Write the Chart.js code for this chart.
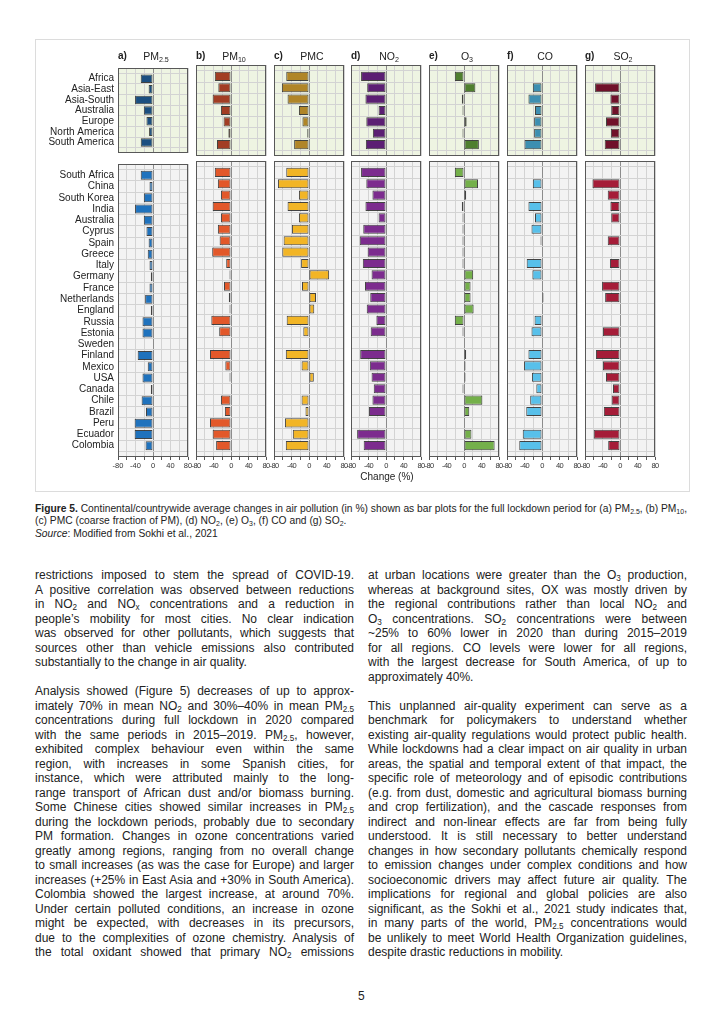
<!DOCTYPE html>
<html>
<head>
<meta charset="utf-8">
<script src="https://cdn.jsdelivr.net/npm/chart.js@4.4.1/dist/chart.umd.min.js"></script>
<style>
  body { margin: 0; background: #fff; }
  #page { position: relative; width: 724px; height: 1024px; overflow: hidden; font-family: 'Liberation Sans', Arial, sans-serif; color: #222; }
  .fig { position: absolute; left: 35px; top: 39px; width: 655px; height: 453px; border: 1.5px solid #dcdcdc; box-sizing: border-box; }
  canvas { position: absolute; }
  .letter { position: absolute; top: 50px; font-size: 10px; font-weight: bold; line-height: 12px; }
  .ptitle { position: absolute; top: 50px; width: 70px; text-align: center; font-size: 10.5px; line-height: 12px; }
  .xlabel { position: absolute; left: 337px; top: 471px; width: 100px; text-align: center; font-size: 10px; }
  sub { font-size: 0.68em; line-height: 0; vertical-align: -0.3em; }
  .caption { position: absolute; left: 35px; top: 502px; font-size: 10.5px; line-height: 12.3px; white-space: nowrap; color: #222; transform-origin: 0 0; }
  .caption span { display: inline-block; }
  .col { position: absolute; top: 568px; width: 319px; font-size: 12px; color: #222; }
  .ln { white-space: nowrap; height: 14.5px; line-height: 14.5px; }
  .gap { height: 14.5px; }
  .pageno { position: absolute; left: 358px; top: 989px; font-size: 12px; }
</style>
</head>
<body>
<div id="page">
  <div class="fig"></div>
  <div id="charts"></div>
  <div class="xlabel">Change (%)</div>

  <div class="caption">
    <div><span id="caption-first"><b>Figure 5.</b> Continental/countrywide average changes in air pollution (in %) shown as bar plots for the full lockdown period for (a) PM<sub>2.5</sub>, (b) PM<sub>10</sub>,</span></div>
    <div>(c) PMC (coarse fraction of PM), (d) NO<sub>2</sub>, (e) O<sub>3</sub>, (f) CO and (g) SO<sub>2</sub>.</div>
    <div><i>Source</i>: Modified from Sokhi et al., 2021</div>
  </div>

  <div class="col" style="left:35px">
    <div class="ln"><span>restrictions imposed to stem the spread of COVID-19.</span></div>
    <div class="ln"><span>A positive correlation was observed between reductions</span></div>
    <div class="ln"><span>in NO<sub>2</sub> and NO<sub>x</sub> concentrations and a reduction in</span></div>
    <div class="ln"><span>people’s mobility for most cities. No clear indication</span></div>
    <div class="ln"><span>was observed for other pollutants, which suggests that</span></div>
    <div class="ln"><span>sources other than vehicle emissions also contributed</span></div>
    <div class="ln last"><span>substantially to the change in air quality.</span></div>
    <div class="gap"></div>
    <div class="ln"><span>Analysis showed (Figure 5) decreases of up to approx-</span></div>
    <div class="ln"><span>imately 70% in mean NO<sub>2</sub> and 30%–40% in mean PM<sub>2.5</sub></span></div>
    <div class="ln"><span>concentrations during full lockdown in 2020 compared</span></div>
    <div class="ln"><span>with the same periods in 2015–2019. PM<sub>2.5</sub>, however,</span></div>
    <div class="ln"><span>exhibited complex behaviour even within the same</span></div>
    <div class="ln"><span>region, with increases in some Spanish cities, for</span></div>
    <div class="ln"><span>instance, which were attributed mainly to the long-</span></div>
    <div class="ln"><span>range transport of African dust and/or biomass burning.</span></div>
    <div class="ln"><span>Some Chinese cities showed similar increases in PM<sub>2.5</sub></span></div>
    <div class="ln"><span>during the lockdown periods, probably due to secondary</span></div>
    <div class="ln"><span>PM formation. Changes in ozone concentrations varied</span></div>
    <div class="ln"><span>greatly among regions, ranging from no overall change</span></div>
    <div class="ln"><span>to small increases (as was the case for Europe) and larger</span></div>
    <div class="ln"><span>increases (+25% in East Asia and +30% in South America).</span></div>
    <div class="ln"><span>Colombia showed the largest increase, at around 70%.</span></div>
    <div class="ln"><span>Under certain polluted conditions, an increase in ozone</span></div>
    <div class="ln"><span>might be expected, with decreases in its precursors,</span></div>
    <div class="ln"><span>due to the complexities of ozone chemistry. Analysis of</span></div>
    <div class="ln"><span>the total oxidant showed that primary NO<sub>2</sub> emissions</span></div>
  </div>

  <div class="col" style="left:368px">
    <div class="ln"><span>at urban locations were greater than the O<sub>3</sub> production,</span></div>
    <div class="ln"><span>whereas at background sites, OX was mostly driven by</span></div>
    <div class="ln"><span>the regional contributions rather than local NO<sub>2</sub> and</span></div>
    <div class="ln"><span>O<sub>3</sub> concentrations. SO<sub>2</sub> concentrations were between</span></div>
    <div class="ln"><span>~25% to 60% lower in 2020 than during 2015–2019</span></div>
    <div class="ln"><span>for all regions. CO levels were lower for all regions,</span></div>
    <div class="ln"><span>with the largest decrease for South America, of up to</span></div>
    <div class="ln last"><span>approximately 40%.</span></div>
    <div class="gap"></div>
    <div class="ln"><span>This unplanned air-quality experiment can serve as a</span></div>
    <div class="ln"><span>benchmark for policymakers to understand whether</span></div>
    <div class="ln"><span>existing air-quality regulations would protect public health.</span></div>
    <div class="ln"><span>While lockdowns had a clear impact on air quality in urban</span></div>
    <div class="ln"><span>areas, the spatial and temporal extent of that impact, the</span></div>
    <div class="ln"><span>specific role of meteorology and of episodic contributions</span></div>
    <div class="ln"><span>(e.g. from dust, domestic and agricultural biomass burning</span></div>
    <div class="ln"><span>and crop fertilization), and the cascade responses from</span></div>
    <div class="ln"><span>indirect and non-linear effects are far from being fully</span></div>
    <div class="ln"><span>understood. It is still necessary to better understand</span></div>
    <div class="ln"><span>changes in how secondary pollutants chemically respond</span></div>
    <div class="ln"><span>to emission changes under complex conditions and how</span></div>
    <div class="ln"><span>socioeconomic drivers may affect future air quality. The</span></div>
    <div class="ln"><span>implications for regional and global policies are also</span></div>
    <div class="ln"><span>significant, as the Sokhi et al., 2021 study indicates that,</span></div>
    <div class="ln"><span>in many parts of the world, PM<sub>2.5</sub> concentrations would</span></div>
    <div class="ln"><span>be unlikely to meet World Health Organization guidelines,</span></div>
    <div class="ln last"><span>despite drastic reductions in mobility.</span></div>
  </div>

  <div class="pageno">5</div>
</div>

<script>
const regions = ['Africa', 'Asia-East', 'Asia-South', 'Australia', 'Europe', 'North America', 'South America'];
const countries = ['South Africa', 'China', 'South Korea', 'India', 'Australia', 'Cyprus', 'Spain', 'Greece', 'Italy',
  'Germany', 'France', 'Netherlands', 'England', 'Russia', 'Estonia', 'Sweden', 'Finland', 'Mexico', 'USA', 'Canada',
  'Chile', 'Brazil', 'Peru', 'Ecuador', 'Colombia'];
const xTicks = [-80, -40, 0, 40, 80];

// continental averages (%)
const pm25Regions = [-28, -10, -41, -21, -15, -9, -28];
const pm10Regions = [-37, -29, -42, -23, -17, -6, -32];
const pmcRegions = [-52, -62, -49, -23, -15, -4, -34];
const no2Regions = [-57, -43, -47, -17, -45, -30, -46];
const o3Regions = [-21, 26, -5, -1, 6, -1, 34];
const coRegions = [null, -21, -31, -16, -18, -18, -40];
const so2Regions = [null, -57, -22, -20, -32, -21, -35];

// country averages (%)
const pm25Countries = [-28, -8, -21, -41, -21, -15, -10, -12, -8, -5, -8, -18, -5, -24, -24, null, -35, -12, -24, -5, -26, -16, -42, -42, -17];
const pm10Countries = [-37, -30, -23, -42, -23, -30, -26, -43, -11, -1, -16, -5, -1, -45, -27, null, -48, -13, -1, null, -23, -14, -48, -42, -34];
const pmcCountries = [-52, -71, -23, -49, -23, -39, -58, -61, -18, 46, -16, 16, 12, -51, -13, null, -53, -17, 11, null, -17, -8, -55, -37, -53];
const no2Countries = [-57, -45, -31, -47, -17, -52, -60, -42, -53, -33, -48, -36, -44, -22, -35, null, -59, -37, -33, -28, -31, -39, null, -66, -51];
const o3Countries = [-21, 32, 5, -5, -1, -1, -1, -1, -3, 21, 15, 15, 22, -21, -2, null, 5, 3, 3, -3, 42, 12, null, 17, 70];
const coCountries = [null, -21, null, -31, -16, -24, -1, null, -35, -22, null, 2, null, -17, -24, null, -31, -41, -23, -13, -27, -36, null, -44, -52];
const so2Countries = [null, -63, -28, -22, -20, null, -28, null, -23, null, -41, -34, null, null, -39, null, -55, -39, -32, -16, -19, -37, null, -60, -27];

const panelLetters = ['a)', 'b)', 'c)', 'd)', 'e)', 'f)', 'g)'];
const panelTitles = ['PM<sub>2.5</sub>', 'PM<sub>10</sub>', 'PMC', 'NO<sub>2</sub>', 'O<sub>3</sub>', 'CO', 'SO<sub>2</sub>'];
const regionSeries = [pm25Regions, pm10Regions, pmcRegions, no2Regions, o3Regions, coRegions, so2Regions];
const countrySeries = [pm25Countries, pm10Countries, pmcCountries, no2Countries, o3Countries, coCountries, so2Countries];
const topColors = ['#1b4f80', '#a23d24', '#b08528', '#5c1f73', '#4f7f2e', '#3d8fb1', '#70112a'];
const bottomColors = ['#1f72bd', '#e2582a', '#f2b526', '#7c2c8e', '#74b04a', '#58c0ea', '#a51c38'];

const firstLeft = 118;
const pitch = 77.8;
const plotWidth = 70;
const labelWidth = 82;
const margin = 10;
const padV = 7;
const axisHeight = 14;
const topSection = { y: 65, h: 91, bg: '#eef4e2' };
const bottomSection = { y: 161, h: 296, bg: '#f3f3f3' };

const panelFrame = {
  id: 'panelFrame',
  beforeDraw(chart, args, opts) {
    const { ctx, chartArea: a } = chart;
    if (opts.tight) ctx.letterSpacing = '-0.6px';
    ctx.save();
    ctx.fillStyle = opts.bg;
    ctx.fillRect(a.left, a.top, a.right - a.left, a.bottom - a.top);
    ctx.restore();
  },
  afterDraw(chart) {
    const { ctx, chartArea: a } = chart;
    ctx.save();
    ctx.strokeStyle = '#585858';
    ctx.lineWidth = 1;
    ctx.strokeRect(Math.round(a.left) + 0.5, Math.round(a.top) + 0.5,
      Math.round(a.right - a.left) - 1, Math.round(a.bottom - a.top) - 1);
    ctx.restore();
  },
};

function criarPainel(index, section, labels, values, color, showLabels, showX) {
  const left = Math.round(firstLeft + index * pitch);
  const yw = showLabels ? labelWidth : 0;
  const canvas = document.createElement('canvas');
  canvas.width = margin + yw + plotWidth + margin;
  canvas.height = padV + section.h + (showX ? axisHeight : 0) + padV;
  canvas.style.left = (left - yw - margin) + 'px';
  canvas.style.top = (section.y - padV) + 'px';
  document.querySelector('#charts').appendChild(canvas);

  new Chart(canvas, {
    type: 'bar',
    data: {
      labels: ['', ...labels, ''],
      datasets: [
        {
          data: [null, ...values, null],
          backgroundColor: color,
          borderColor: 'rgba(35,35,35,0.85)',
          borderWidth: 1,
          borderSkipped: false,
          barPercentage: 0.8,
          categoryPercentage: 1,
          minBarLength: 1.5,
        },
      ],
    },
    options: {
      indexAxis: 'y',
      responsive: false,
      animation: false,
      events: [],
      layout: { padding: { top: padV, bottom: padV, left: margin, right: margin } },
      plugins: {
        legend: { display: false },
        tooltip: { enabled: false },
        panelFrame: { bg: section.bg, tight: !showLabels },
      },
      scales: {
        x: {
          min: -80,
          max: 80,
          border: { display: false },
          grid: {
            color: (c) => (c.tick && c.tick.value === 0 ? '#8c8c8c' : '#d3d3d3'),
            drawTicks: showX,
            tickLength: 3,
            tickColor: '#555',
          },
          ticks: {
            display: showX,
            stepSize: 20,
            autoSkip: false,
            maxRotation: 0,
            padding: 1,
            color: '#333',
            font: { family: "'Liberation Sans', Arial, sans-serif", size: 7.5 },
            callback: (v) => (xTicks.includes(v) ? String(v) : ''),
          },
          afterFit: (s) => { s.height = showX ? axisHeight : 0; },
        },
        y: {
          offset: false,
          border: { display: false },
          grid: { offset: true, color: '#d3d3d3', drawTicks: false },
          ticks: {
            display: showLabels,
            autoSkip: false,
            padding: 4,
            color: '#222',
            font: { family: "'Liberation Sans', Arial, sans-serif", size: 10 },
          },
          afterFit: (s) => { s.width = yw; },
        },
      },
    },
    plugins: [panelFrame],
  });
}

function criarTitulos() {
  const page = document.querySelector('#page');
  panelLetters.forEach((letter, i) => {
    const left = Math.round(firstLeft + i * pitch);
    const l = document.createElement('div');
    l.className = 'letter';
    l.style.left = left + 'px';
    l.textContent = letter;
    page.appendChild(l);
    const t = document.createElement('div');
    t.className = 'ptitle';
    t.style.left = (left + 3) + 'px';
    t.innerHTML = panelTitles[i];
    page.appendChild(t);
  });
}

function justificarLinhas() {
  document.querySelectorAll('.col .ln').forEach((line) => {
    if (line.classList.contains('last')) return;
    const inner = line.firstElementChild;
    const spaces = (inner.textContent.match(/ /g) || []).length;
    const natural = inner.getBoundingClientRect().width;
    if (spaces) inner.style.wordSpacing = (line.clientWidth - natural) / spaces + 'px';
  });
}

function ajustarLegenda() {
  // the caption uses a condensed face in print; squeeze it to the same line length
  const first = document.querySelector('#caption-first');
  const factor = 652 / first.getBoundingClientRect().width;
  document.querySelector('.caption').style.transform = `scaleX(${factor})`;
}

regionSeries.forEach((values, i) => {
  criarPainel(i, topSection, regions, values, topColors[i], i === 0, false);
  criarPainel(i, bottomSection, countries, countrySeries[i], bottomColors[i], i === 0, true);
});
criarTitulos();
justificarLinhas();
ajustarLegenda();
</script>
</body>
</html>
